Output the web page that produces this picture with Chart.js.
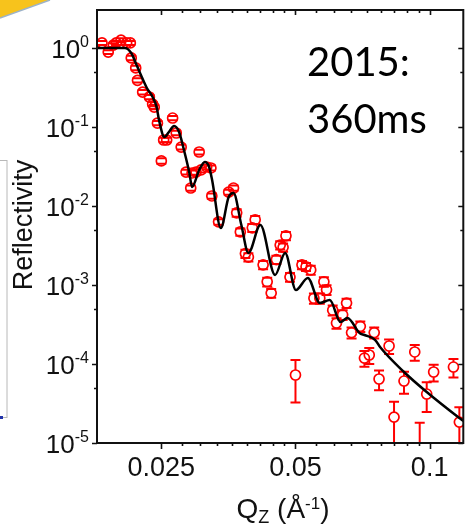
<!DOCTYPE html>
<html><head><meta charset="utf-8">
<style>
html,body{margin:0;padding:0;overflow:hidden;background:#fff;width:466px;height:525px}
#wrap{position:relative;width:470px;height:525px}
</style>
<script src="https://cdn.jsdelivr.net/npm/chart.js@4.4.1/dist/chart.umd.min.js"></script>
</head><body><div id="wrap"><canvas id="c" width="470" height="525"></canvas></div>
<script>
// Measured reflectivity (Qz in 1/Å, R, error)
const qData = [0.0184,0.0190,0.0195,0.0198,0.0203,0.0209,0.0213,0.0214,0.0219,0.0221,0.0227,0.0235,0.0239,0.0241,0.0245,0.0250,0.0253,0.0257,0.0265,0.0270,0.0277,0.0284,0.0291,0.0293,0.0299,0.0304,0.0307,0.0316,0.0323,0.03245,0.0336,0.0354,0.0363,0.0369,0.0376,0.0386,0.0392,0.0400,0.0406,0.0423,0.0432,0.0441,0.0453,0.0462,0.0469,0.0476,0.0486,0.0500,0.0517,0.0528,0.0541,0.0550,0.0567,0.0579,0.0587,0.0606,0.0618,0.0638,0.0651,0.0668,0.0699,0.0714,0.0732,0.0751,0.0770,0.0811,0.0832,0.0876,0.0926,0.0950,0.0985,0.1021,0.1131,0.1166];
const rData = [1.16,0.89,1.09,1.16,1.26,1.16,1.16,0.75,0.56,0.39,0.277,0.240,0.195,0.179,0.112,0.0372,0.0685,0.0685,0.130,0.084,0.0558,0.0269,0.0169,0.0262,0.0269,0.0483,0.0286,0.0312,0.0303,0.0134,0.0063,0.0150,0.0169,0.0082,0.0047,0.0025,0.00226,0.0053,0.0067,0.0018,0.0011,0.00079,0.0021,0.0032,0.0030,0.0042,0.00126,0.0000726,0.0018,0.0017,0.00155,0.00068,0.00068,0.0011,0.00087,0.00048,0.00033,0.00042,0.00059,0.00025,0.0003,0.000119,0.00013,0.00025,0.0000646,0.000169,0.0000213,0.0000609,0.000142,0.000007,0.0000417,0.0000792,0.0000916,0.0000184];
const rErr = [0.07,0.05,0.06,0.07,0.07,0.07,0.07,0.05,0.035,0.025,0.018,0.015,0.012,0.011,0.007,0.003,0.0045,0.0045,0.008,0.0055,0.0037,0.0019,0.0013,0.0019,0.002,0.0033,0.002,0.0022,0.0022,0.001,0.0005,0.0011,0.0013,0.0009,0.0005,0.0003,0.00027,0.0006,0.0008,0.00022,0.00014,0.0001,0.00025,0.00038,0.00036,0.0005,0.00016,0.00004,0.00022,0.0002,0.0002,0.0001,0.0001,0.00015,0.00012,0.00007,0.00005,0.00006,0.00008,0.00004,0.000045,0.000027,0.00003,0.00004,0.000018,0.000035,0.000012,0.000019,0.000032,0.000011,0.000017,0.000019,0.000024,0.00001];
// Fit curve
const fitQ = [0.0179,0.0200,0.0207,0.0214,0.0220,0.0226,0.0232,0.0239,0.0244,0.0247,0.0254,0.0260,0.0267,0.0274,0.0281,0.0289,0.0293,0.0304,0.0313,0.0320,0.0325,0.0340,0.0354,0.0363,0.0378,0.0392,0.0417,0.0450,0.0474,0.0501,0.0533,0.0567,0.0597,0.0631,0.0654,0.0696,0.0714,0.0755,0.0774,0.0876,0.0985,0.1166,0.119];
const fitR = [1.0,1.0,1.0,0.864,0.609,0.429,0.312,0.240,0.179,0.123,0.0747,0.0865,0.103,0.0865,0.0512,0.0262,0.0174,0.0286,0.0361,0.0312,0.0213,0.00527,0.0130,0.0146,0.00574,0.00254,0.00574,0.00134,0.00254,0.000865,0.00123,0.000592,0.000646,0.00034,0.000382,0.000247,0.000233,0.000201,0.000164,0.0000792,0.0000442,0.0000207,0.0000190];
// Axis ticks
const xMajorTicks = [0.025,0.05,0.1];
const xTickLabels = ['0.025','0.05','0.1'];
const xMinorTicks = [0.02778,0.03056,0.03333,0.03611,0.03889,0.04167,0.04444,0.04722,0.05556,0.06111,0.06667,0.07222,0.07778,0.08333,0.08889,0.09444];
const yMajorTicks = [1,0.1,0.01,0.001,0.0001,0.00001];
const yTickExponents = ['0','-1','-2','-3','-4','-5'];
const yMinorTicks = [0.5,0.05,0.005,0.0005,0.00005];
const xTitle = ['Q','Z',' (Å','-1',')'];
const yTitle = 'Reflectivity';
const noteLines = ['2015:','360ms'];

const RED = '#ff0000';
const SANS = '"Liberation Sans", Arial, sans-serif';

const deco = {
  id: 'deco',
  beforeDraw(chart) {
    const ctx = chart.ctx;
    ctx.save();
    ctx.fillStyle = '#fff';
    ctx.fillRect(0, 0, chart.width, chart.height);
    ctx.beginPath();
    ctx.moveTo(0, 0); ctx.lineTo(50, 0); ctx.lineTo(0, 18); ctx.closePath();
    ctx.fillStyle = '#f7c31c'; ctx.fill();
    ctx.beginPath(); ctx.moveTo(50, 0); ctx.lineTo(0, 18);
    ctx.strokeStyle = '#9db3c8'; ctx.lineWidth = 1.5; ctx.stroke();
    ctx.strokeStyle = '#b8b8b8'; ctx.lineWidth = 1;
    ctx.strokeRect(-2, 160.5, 9, 257);
    ctx.fillStyle = '#2233aa'; ctx.fillRect(0, 416, 3, 3);
    ctx.restore();
  },
  afterDatasetDraw(chart, args) {
    if (args.index !== 1) return;
    const ctx = chart.ctx, xs = chart.scales.x, ys = chart.scales.y, a = chart.chartArea;
    const R = 5, C = 5;
    ctx.save();
    ctx.beginPath(); ctx.rect(a.left, a.top, a.right - a.left, a.bottom - a.top); ctx.clip();
    ctx.strokeStyle = RED; ctx.lineWidth = 2;
    for (let i = 0; i < qData.length; i++) {
      const px = xs.getPixelForValue(qData[i]);
      const py = ys.getPixelForValue(rData[i]);
      const top = ys.getPixelForValue(rData[i] + rErr[i]);
      const lo = rData[i] - rErr[i];
      const bot = lo > 0 ? ys.getPixelForValue(lo) : a.bottom + 20;
      ctx.beginPath();
      if (py - top > R) { ctx.moveTo(px, top); ctx.lineTo(px, Math.min(py - R, a.bottom + 20)); }
      if (bot - py > R) { ctx.moveTo(px, Math.max(py + R, top)); ctx.lineTo(px, bot); }
      ctx.moveTo(px - C, top); ctx.lineTo(px + C, top);
      if (lo > 0) { ctx.moveTo(px - C, bot); ctx.lineTo(px + C, bot); }
      ctx.stroke();
    }
    ctx.restore();
  },
  afterDraw(chart) {
    const ctx = chart.ctx, xs = chart.scales.x, ys = chart.scales.y, a = chart.chartArea;
    ctx.save();
    ctx.strokeStyle = '#111'; ctx.fillStyle = '#111';
    ctx.lineWidth = 2;
    ctx.strokeRect(a.left, a.top, a.right - a.left, a.bottom - a.top);
    ctx.lineWidth = 1.6;
    ctx.beginPath();
    yMajorTicks.forEach(v => { const p = Math.round(ys.getPixelForValue(v)) + 0.5;
      ctx.moveTo(a.left - 5, p); ctx.lineTo(a.left, p); ctx.moveTo(a.right - 5, p); ctx.lineTo(a.right, p); });
    yMinorTicks.forEach(v => { const p = Math.round(ys.getPixelForValue(v)) + 0.5;
      ctx.moveTo(a.left - 3, p); ctx.lineTo(a.left, p); ctx.moveTo(a.right - 3, p); ctx.lineTo(a.right, p); });
    xMajorTicks.forEach(v => { const p = Math.round(xs.getPixelForValue(v)) + 0.5;
      ctx.moveTo(p, a.bottom); ctx.lineTo(p, a.bottom + 6); ctx.moveTo(p, a.top); ctx.lineTo(p, a.top + 5); });
    xMinorTicks.forEach(v => { const p = Math.round(xs.getPixelForValue(v)) + 0.5;
      ctx.moveTo(p, a.bottom); ctx.lineTo(p, a.bottom + 3); ctx.moveTo(p, a.top); ctx.lineTo(p, a.top + 3); });
    ctx.stroke();

    ctx.textBaseline = 'alphabetic';
    yMajorTicks.forEach((v, i) => {
      const p = ys.getPixelForValue(v);
      ctx.font = '16px ' + SANS;
      const we = ctx.measureText(yTickExponents[i]).width;
      ctx.font = '26px ' + SANS;
      const wb = ctx.measureText('10').width;
      const right = 89;
      ctx.textAlign = 'left';
      ctx.fillText('10', right - we - wb, p + 10);
      ctx.font = '16px ' + SANS;
      ctx.fillText(yTickExponents[i], right - we, p - 1);
    });
    ctx.font = '27px ' + SANS; ctx.textAlign = 'center';
    xMajorTicks.forEach((v, i) => { ctx.fillText(xTickLabels[i], xs.getPixelForValue(v), 476); });

    const parts = [
      { t: xTitle[0], f: 28, dy: 0 },
      { t: xTitle[1], f: 18, dy: 5 },
      { t: xTitle[2], f: 28, dy: 0 },
      { t: xTitle[3], f: 17, dy: -9 },
      { t: xTitle[4], f: 28, dy: 0 }
    ];
    let tw = 0;
    parts.forEach(pt => { ctx.font = pt.f + 'px ' + SANS; pt.w = ctx.measureText(pt.t).width; tw += pt.w; });
    let cx = 283 - tw / 2;
    ctx.textAlign = 'left';
    parts.forEach(pt => { ctx.font = pt.f + 'px ' + SANS; ctx.fillText(pt.t, cx, 518 + pt.dy); cx += pt.w; });

    ctx.save();
    ctx.translate(32, 225); ctx.rotate(-Math.PI / 2);
    ctx.font = '27px ' + SANS; ctx.textAlign = 'center';
    ctx.fillText(yTitle, 0, 0);
    ctx.restore();

    ctx.fillStyle = '#000';
    ctx.font = '40px Lato, "Open Sans", sans-serif'; ctx.textAlign = 'left';
    ctx.fillText(noteLines[0], 307, 76);
    ctx.fillText(noteLines[1], 307, 133);
    ctx.restore();
  }
};

new Chart(document.getElementById('c'), {
  data: {
    datasets: [
      {
        type: 'line',
        data: fitQ.map((q, i) => ({ x: q, y: fitR[i] })),
        borderColor: '#000', borderWidth: 2.5, pointRadius: 0,
        cubicInterpolationMode: 'monotone', fill: false
      },
      {
        type: 'scatter',
        data: qData.map((q, i) => ({ x: q, y: rData[i] })),
        pointStyle: 'circle', pointRadius: 5, pointBorderWidth: 1.7,
        pointBorderColor: RED, pointBackgroundColor: 'rgba(255,255,255,0)',
        showLine: false
      }
    ]
  },
  options: {
    responsive: false, animation: false, devicePixelRatio: 1,
    layout: { padding: { left: 97, top: 10, right: 3, bottom: 82 } },
    plugins: { legend: { display: false }, tooltip: { enabled: false } },
    scales: {
      x: { type: 'logarithmic', min: 0.01793, max: 0.119, display: false },
      y: { type: 'logarithmic', min: 0.00001, max: 3.03, display: false }
    }
  },
  plugins: [deco]
});
</script>
</body></html>
